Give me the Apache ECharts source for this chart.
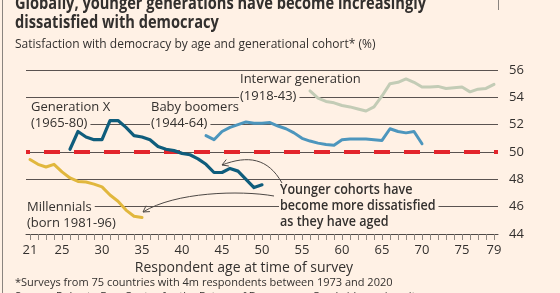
<!DOCTYPE html>
<html><head><meta charset="utf-8">
<script src="https://cdn.jsdelivr.net/npm/echarts@6/dist/echarts.min.js"></script>
<style>html,body{margin:0;padding:0;background:#fff1e5;}#c{width:560px;height:293px;}</style>
</head><body><div id="c"></div>
<script>
const ages = ['21','22','23','24','25','26','27','28','29','30','31','32','33','34','35','36','37','38','39','40',
  '41','42','43','44','45','46','47','48','49','50','51','52','53','54','55','56','57','58','59','60',
  '61','62','63','64','65','66','67','68','69','70','71','72','73','74','75','76','77','78','79'];
const xTickLabels = ['21','25','30','35','40','45','50','55','60','65','70','75','79'];
const yMin = 44, yMax = 56, yStep = 2;
const referenceLevel = 50;

const millennialsStart = 21;
const millennials = [49.45,49.1,48.9,49.1,48.55,48.1,47.85,47.8,47.65,47.45,46.85,46.4,45.75,45.3,45.2];
const genXStart = 26;
const genX = [50.2,51.5,51.1,50.9,50.9,52.3,52.3,51.8,51.2,51.1,50.9,50.4,50.2,50.1,49.9,49.8,49.5,49.1,48.5,48.5,48.8,48.6,48.0,47.4,47.6];
const boomersStart = 43;
const boomers = [51.2,50.9,51.5,51.8,52.0,52.2,52.1,52.1,52.15,51.9,51.7,51.4,51.0,50.8,50.65,50.55,50.5,50.9,50.95,50.95,50.95,50.9,50.85,51.7,51.5,51.4,51.5,50.6];
const interwarStart = 56;
const interwar = [54.47,53.95,53.7,53.6,53.4,53.3,53.15,53.0,53.3,54.1,55.0,55.1,55.35,55.1,54.75,54.75,54.8,54.65,54.7,54.75,54.4,54.6,54.65,54.95];

function pad(start, vals){
  return ages.map(a => { const i = +a - start; return (i >= 0 && i < vals.length) ? vals[i] : null; });
}

const TXT = '#33302e';
const BG = '#fff1e5';
const FONT = '"Open Sans", sans-serif';
const mctx = document.createElement('canvas').getContext('2d');
function textW(font, text){ mctx.font = font; return mctx.measureText(text).width; }

const chart = echarts.init(document.getElementById('c'), null, {renderer:'canvas'});

// label with an opaque box behind it (hides gridlines like the original)
function lbl(x, y, text, o){
  o = o || {};
  const font = o.font || ('13px ' + FONT);
  const h = o.h || 15, sx = o.sx || 1, padL = o.padL || 1;
  const w = textW(font, text) * sx;
  return [
    {type:'rect', z:4, shape:{x:x-padL, y:y-h/2, width:w+padL+3, height:h}, style:{fill:BG}},
    {type:'text', x:x, y:y, z:5, scaleX:sx, style:{text:text, fill:TXT, font:font, textVerticalAlign:'middle'}}
  ];
}
function chevron(tx, ty, ax, ay){
  const dx = tx-ax, dy = ty-ay, L = Math.hypot(dx,dy), ux = dx/L, uy = dy/L;
  const s = 6, w = 3.5;
  return {type:'polyline', z:6, shape:{points:[[tx - ux*s - uy*w, ty - uy*s + ux*w],[tx,ty],[tx - ux*s + uy*w, ty - uy*s - ux*w]]},
    style:{stroke:'#4d4845', lineWidth:1, fill:null}};
}

const lineSeries = (name, data, color, width) => ({
  name:name, type:'line', data:data, symbol:'none', z:10, connectNulls:false,
  lineStyle:{color:color, width:width, join:'round', cap:'round'}, itemStyle:{color:color}
});

const ann = {font:'600 13.5px ' + FONT, h:16, sx:0.93};
const graphics = [].concat(
  [
    {type:'line', z:1, shape:{x1:2.5, y1:0, x2:2.5, y2:293}, style:{stroke:'#8a847f', lineWidth:1}},
    {type:'line', z:1, shape:{x1:498.5, y1:0, x2:498.5, y2:10}, style:{stroke:'#8a847f', lineWidth:1}},
    {type:'text', x:15, y:4, z:5, scaleX:0.86, style:{text:'Globally, younger generations have become increasingly', fill:TXT, font:'bold 17px ' + FONT, textVerticalAlign:'middle'}},
    {type:'text', x:15, y:23, z:5, scaleX:0.86, style:{text:'dissatisfied with democracy', fill:TXT, font:'bold 17px ' + FONT, textVerticalAlign:'middle'}},
    {type:'text', x:15, y:45, z:5, style:{text:'Satisfaction with democracy by age and generational cohort* (%)', fill:TXT, font:'12px ' + FONT, textVerticalAlign:'middle'}}
  ],
  lbl(31, 107, 'Generation X', {padL:8}),
  lbl(31, 123, '(1965-80)', {padL:8}),
  lbl(151, 107, 'Baby boomers'),
  lbl(151, 123, '(1944-64)'),
  lbl(240, 79, 'Interwar generation'),
  lbl(240, 96, '(1918-43)'),
  lbl(27, 207, 'Millennials', {padL:4}),
  lbl(27, 223, '(born 1981-96)', {padL:4}),
  lbl(280, 190, 'Younger cohorts have', ann),
  lbl(280, 206, 'become more dissatisfied', ann),
  lbl(280, 222, 'as they have aged', ann),
  [
    {type:'text', x:244, y:268, z:5, style:{text:'Respondent age at time of survey', fill:TXT, font:'14px ' + FONT, textAlign:'center', textVerticalAlign:'middle'}},
    {type:'text', x:15, y:283, z:5, style:{text:'*Surveys from 75 countries with 4m respondents between 1973 and 2020', fill:TXT, font:'11px ' + FONT, textVerticalAlign:'middle'}},
    {type:'text', x:15, y:297, z:5, style:{text:'Source: Roberto Foa, Centre for the Future of Democracy, Cambridge university', fill:TXT, font:'11px ' + FONT, textVerticalAlign:'middle'}},
    {type:'bezierCurve', z:6, shape:{x1:282, y1:183, x2:222, y2:165, cpx1:268, cpy1:158, cpx2:248, cpy2:155}, style:{stroke:'#4d4845', lineWidth:1, fill:null}},
    chevron(222, 165, 232, 161),
    {type:'bezierCurve', z:6, shape:{x1:274, y1:196, x2:143, y2:212, cpx1:240, cpy1:190, cpx2:175, cpy2:192}, style:{stroke:'#4d4845', lineWidth:1, fill:null}},
    chevron(143, 212, 155, 204)
  ]
);

chart.setOption({
  backgroundColor:BG,
  animation:false,
  textStyle:{fontFamily:FONT},
  grid:{left:26, right:62, top:70, bottom:59, containLabel:false},
  xAxis:{type:'category', data:ages, boundaryGap:true, z:0,
    axisLine:{show:true, lineStyle:{color:'#4d4845', width:1}},
    axisTick:{show:true, interval:0, alignWithLabel:true, length:6, lineStyle:{color:'#8d8680', width:1}},
    axisLabel:{interval:(i, v) => xTickLabels.indexOf(v) >= 0, color:TXT, fontSize:13, margin:10, fontFamily:FONT},
    splitLine:{show:false}},
  yAxis:{type:'value', position:'right', min:yMin, max:yMax, interval:yStep, z:0,
    axisLine:{show:false}, axisTick:{show:false},
    axisLabel:{color:TXT, fontSize:13, margin:11, fontFamily:FONT},
    splitLine:{show:true, lineStyle:{color:'#5a5350', width:1}}},
  series:[
    Object.assign(lineSeries('Interwar generation (1918-43)', pad(interwarStart, interwar), '#c3ccb6', 3), {
      markLine:{silent:true, symbol:'none', label:{show:false},
        lineStyle:{color:'#e3242b', width:4, type:[16,14], dashOffset:12},
        data:[{yAxis:referenceLevel}]}}),
    lineSeries('Baby boomers (1944-64)', pad(boomersStart, boomers), '#4d96bd', 3),
    lineSeries('Generation X (1965-80)', pad(genXStart, genX), '#0f5d7c', 3.2),
    lineSeries('Millennials (born 1981-96)', pad(millennialsStart, millennials), '#e1b73d', 3)
  ],
  graphic:graphics
});
</script>
</body></html>
